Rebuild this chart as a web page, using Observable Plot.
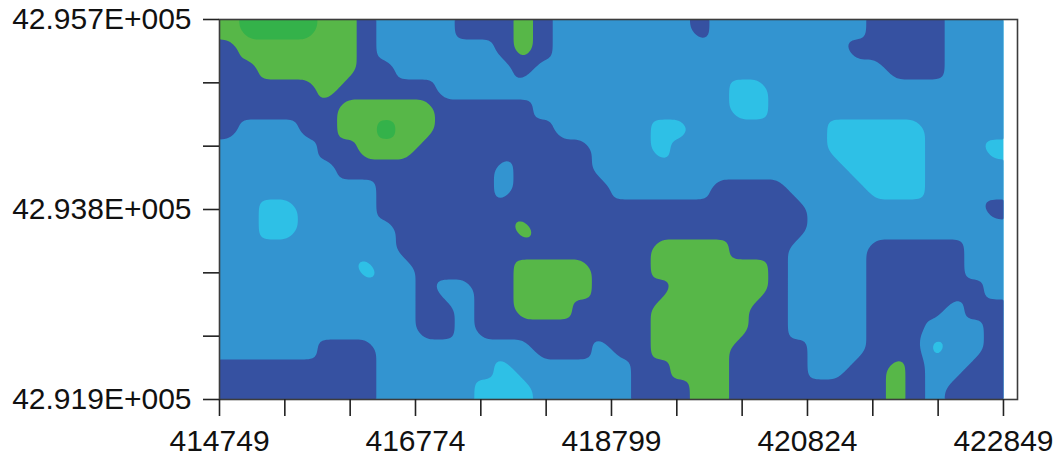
<!DOCTYPE html>
<html>
<head>
<meta charset="utf-8">
<script src="https://cdn.jsdelivr.net/npm/d3@7"></script>
<script src="https://cdn.jsdelivr.net/npm/@observablehq/plot@0.6"></script>
<style>
  html, body { margin: 0; padding: 0; background: white; }
</style>
</head>
<body>
<div id="chart"></div>
<script>
// Class level read from the map at each grid cell centre:
// 0 = cyan, 1 = medium blue, 2 = dark blue, 3 = green, 4 = dark green
// 40 columns (west -> east) x 19 rows (north -> south)
const gridCols = 40;
const gridRows = 19;
const levelRows = [
  "3444433211" + "1122232111" + "1111211111" + "1112222111",
  "2333333211" + "1111232111" + "1111111111" + "1122222111",
  "2233333221" + "1111121111" + "1111111111" + "1111222111",
  "2222232222" + "2111111111" + "1111110011" + "1111111111",
  "2222223333" + "3222221111" + "1111110011" + "1111111111",
  "2111223343" + "3222222111" + "1100111111" + "1000001111",
  "1111122333" + "2222222221" + "1101111111" + "1000001110",
  "1111112222" + "2222122221" + "1111111111" + "1100001111",
  "1111111122" + "2222122222" + "1111122221" + "1110001111",
  "1100111122" + "2222222222" + "2222222222" + "1111111112",
  "1100111112" + "2222232222" + "2222222222" + "1111111111",
  "1111111112" + "2222222222" + "2233332221" + "1112222211",
  "1111111011" + "2222233332" + "2233333321" + "1112222211",
  "1111111111" + "2112233332" + "2223333321" + "1112222221",
  "1111111111" + "2212233322" + "2233333221" + "1112222122",
  "1111111111" + "2212222222" + "2233333221" + "1112221112",
  "1111122211" + "1111112221" + "2233332222" + "1112220112",
  "2222222211" + "1111011111" + "1223332222" + "1122321122",
  "2222222211" + "1110001111" + "1222332222" + "2222321222"
];

const levelColors = ["#2ec0e6", "#3394d0", "#3651a1", "#57b748", "#34b24a"];
const levelThresholds = [-0.5, 0.5, 1.5, 2.5, 3.5];

const xExtent = [414749, 422849];
const yExtent = [4291900, 4295700];
const xTicks = [414749, 415424, 416099, 416774, 417449, 418124, 418799, 419474, 420149, 420824, 421499, 422174, 422849];
const xLabelTicks = [414749, 416774, 418799, 420824, 422849];
const yTicks = [4291900, 4292533.33, 4293166.67, 4293800, 4294433.33, 4295066.67, 4295700];
const yLabelTicks = [4291900, 4293800, 4295700];
const yLabels = ["42.919E+005", "42.938E+005", "42.957E+005"];

// sample points at grid-cell centres (data units); the edge cells are
// repeated one cell outside the map so that the interpolation covers it fully
const levels = levelRows.map(r => Array.from(r, Number));
const dx = (xExtent[1] - xExtent[0]) / gridCols;
const dy = (yExtent[1] - yExtent[0]) / gridRows;
const clamp = (k, n) => Math.max(0, Math.min(n - 1, k));
const samples = [];
for (let j = -1; j <= gridRows; ++j) {
  for (let i = -1; i <= gridCols; ++i) {
    samples.push({
      x: xExtent[0] + (i + 0.5) * dx,
      y: yExtent[1] - (j + 0.5) * dy,
      v: levels[clamp(j, gridRows)][clamp(i, gridCols)]
    });
  }
}

const near = (a, b) => Math.abs(a - b) < 1;
const chart = Plot.plot({
  width: 1053,
  height: 457,
  marginLeft: 219,
  marginRight: 36,
  marginTop: 19,
  marginBottom: 58,
  x: {domain: [414749, 422994]},
  y: {domain: yExtent},
  color: {type: "threshold", domain: levelThresholds.slice(1), range: levelColors},
  style: {fontFamily: "Arial, 'Liberation Sans', sans-serif", fontSize: "30px", color: "#111", background: "white"},
  marks: [
    Plot.contour(samples, {
      x: "x",
      y: "y",
      fill: "v",
      interpolate: "barycentric",
      pixelSize: 2,
      blur: 2,
      x1: xExtent[0], x2: xExtent[1],
      y1: yExtent[1], y2: yExtent[0],
      thresholds: levelThresholds,
      stroke: "none"
    }),
    Plot.frame({stroke: "#3c3c3c", strokeWidth: 1.6}),
    Plot.axisX({
      ticks: xTicks,
      tickSize: 17,
      tickPadding: 13,
      stroke: "#222",
      strokeWidth: 1.6,
      tickFormat: d => xLabelTicks.some(t => near(t, d)) ? String(d) : "",
      label: null
    }),
    Plot.axisY({
      ticks: yTicks,
      tickSize: 16,
      tickPadding: 12,
      stroke: "#222",
      strokeWidth: 1.6,
      tickFormat: d => {
        const i = yLabelTicks.findIndex(t => near(t, d));
        return i >= 0 ? yLabels[i] : "";
      },
      label: null
    })
  ]
});
document.getElementById("chart").appendChild(chart);
</script>
</body>
</html>
